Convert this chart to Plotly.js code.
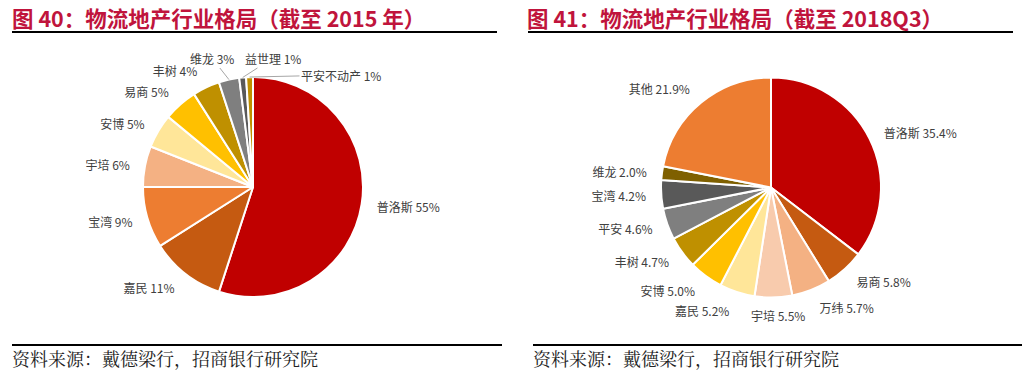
<!DOCTYPE html>
<html>
<head>
<meta charset="utf-8">
<script src="https://cdn.plot.ly/plotly-3.0.1.min.js"></script>
<style>html,body{margin:0;padding:0;background:#fff;}#chart{width:1035px;height:377px;}</style>
</head>
<body>
<div id="chart"></div>
<script>
// Figure 40: up to 2015
const labels2015 = ['普洛斯', '嘉民', '宝湾', '宇培', '安博', '易商', '丰树', '维龙', '益世理', '平安不动产'];
const values2015 = [55, 11, 9, 6, 5, 5, 4, 3, 1, 1];
const colors2015 = ['#C00000', '#C55A11', '#ED7D31', '#F4B183', '#FFE699', '#FFC000', '#BF9000', '#7F7F7F', '#595959', '#BF9000'];

// Figure 41: up to 2018Q3
const labels2018 = ['普洛斯', '易商', '万纬', '宇培', '嘉民', '安博', '丰树', '平安', '宝湾', '维龙', '其他'];
const values2018 = [35.4, 5.8, 5.7, 5.5, 5.2, 5.0, 4.7, 4.6, 4.2, 2.0, 21.9];
const colors2018 = ['#C00000', '#C55A11', '#F4B183', '#F8CBAD', '#FFE699', '#FFC000', '#BF9000', '#7F7F7F', '#595959', '#7F6000', '#ED7D31'];

const title2015 = '图 40：物流地产行业格局（截至 2015 年）';
const title2018 = '图 41：物流地产行业格局（截至 2018Q3）';
const sourceText = '资料来源：戴德梁行，招商银行研究院';

const W = 1035, H = 377;
const px = x => x / W;
const py = y => 1 - y / H;

// pie geometry (pixels)
const R = 110, RL = 121;
const c1 = {x: 253, y: 187}, c2 = {x: 771, y: 187.5};

const labelFont = {family: 'Noto Sans CJK SC, sans-serif', size: 12, color: '#404040'};
const clear = n => Array(n).fill('rgba(0,0,0,0)');

// slices whose labels are placed by hand (left chart with leader lines, right chart plain)
const manualLeft = {7: {tx: 212, ty: 58}, 8: {tx: 273, ty: 58}, 9: {tx: 341, ty: 75}};
const manualRight = {3: {tx: 778, ty: 315}};

function pieDomain(c, r) {
  return {x: [px(c.x - r), px(c.x + r)], y: [py(c.y + r), py(c.y - r)]};
}

const traces = [
  // main pies (no text)
  {
    type: 'pie', labels: labels2015, values: values2015, sort: false, direction: 'clockwise',
    marker: {colors: colors2015, line: {color: '#ffffff', width: 2}},
    textposition: 'none', domain: pieDomain(c1, R), hoverinfo: 'label+value', showlegend: false
  },
  {
    type: 'pie', labels: labels2018, values: values2018, sort: false, direction: 'clockwise',
    marker: {colors: colors2018, line: {color: '#ffffff', width: 2}},
    textposition: 'none', domain: pieDomain(c2, R), hoverinfo: 'label+value', showlegend: false
  },
  // transparent label rings, slightly larger, carrying the outside labels
  {
    type: 'pie', labels: labels2015, values: values2015, sort: false, direction: 'clockwise',
    marker: {colors: clear(values2015.length), line: {width: 0}},
    textposition: values2015.map((v, i) => (i in manualLeft) ? 'none' : 'outside'),
    texttemplate: '%{label} %{value}%', textfont: labelFont,
    domain: pieDomain(c1, RL), hoverinfo: 'skip', showlegend: false
  },
  {
    type: 'pie', labels: labels2018, values: values2018, sort: false, direction: 'clockwise',
    marker: {colors: clear(values2018.length), line: {width: 0}},
    textposition: values2018.map((v, i) => (i in manualRight) ? 'none' : 'outside'),
    texttemplate: '%{label} %{value:.1f}%', textfont: labelFont,
    domain: pieDomain(c2, RL), hoverinfo: 'skip', showlegend: false
  }
];

const titleFont = {family: 'Noto Sans CJK SC, sans-serif', size: 21.5, color: '#C0143C', weight: 'bold'};
const srcFont = {family: 'Noto Serif CJK SC, Noto Sans CJK SC, serif', size: 18, color: '#222222'};

const annotations = [
  {text: '<b>' + title2015 + '</b>', x: px(10), y: py(18), xref: 'paper', yref: 'paper', xanchor: 'left', yanchor: 'middle', showarrow: false, font: titleFont},
  {text: '<b>' + title2018 + '</b>', x: px(525), y: py(18), xref: 'paper', yref: 'paper', xanchor: 'left', yanchor: 'middle', showarrow: false, font: titleFont},
  {text: sourceText, x: px(10), y: py(358), xref: 'paper', yref: 'paper', xanchor: 'left', yanchor: 'middle', showarrow: false, font: srcFont},
  {text: sourceText, x: px(531), y: py(358), xref: 'paper', yref: 'paper', xanchor: 'left', yanchor: 'middle', showarrow: false, font: srcFont}
];

// leader-line labels for the thin slices, anchored at each slice's mid-angle on the rim
const total2015 = values2015.reduce((a, b) => a + b, 0);
let cum = 0;
values2015.forEach((v, i) => {
  const mid = (cum + v / 2) / total2015 * 2 * Math.PI;
  cum += v;
  if (!(i in manualLeft)) return;
  const ex = c1.x + R * Math.sin(mid), ey = c1.y - R * Math.cos(mid);
  const m = manualLeft[i];
  annotations.push({
    text: labels2015[i] + ' ' + v + '%', xref: 'paper', yref: 'paper',
    x: px(ex), y: py(ey), ax: m.tx - ex, ay: m.ty - ey,
    showarrow: true, arrowhead: 0, arrowwidth: 1, arrowcolor: '#A6A6A6', standoff: 0,
    font: labelFont
  });
});
values2018.forEach((v, i) => {
  if (!(i in manualRight)) return;
  const m = manualRight[i];
  annotations.push({
    text: labels2018[i] + ' ' + v.toFixed(1) + '%', xref: 'paper', yref: 'paper',
    x: px(m.tx), y: py(m.ty), xanchor: 'center', yanchor: 'middle', showarrow: false,
    font: labelFont
  });
});

const layout = {
  width: W, height: H,
  margin: {l: 0, r: 0, t: 0, b: 0},
  paper_bgcolor: '#ffffff', plot_bgcolor: '#ffffff',
  showlegend: false,
  annotations: annotations,
  shapes: [
    {type: 'line', xref: 'paper', yref: 'paper', x0: px(12), x1: px(497), y0: py(32), y1: py(32), line: {color: '#000', width: 2}},
    {type: 'line', xref: 'paper', yref: 'paper', x0: px(528), x1: px(1013), y0: py(32), y1: py(32), line: {color: '#000', width: 2}},
    {type: 'line', xref: 'paper', yref: 'paper', x0: px(12), x1: px(502), y0: py(345), y1: py(345), line: {color: '#000', width: 2}},
    {type: 'line', xref: 'paper', yref: 'paper', x0: px(533), x1: px(1022), y0: py(345), y1: py(345), line: {color: '#000', width: 2}}
  ]
};

Plotly.newPlot('chart', traces, layout, {displayModeBar: false, staticPlot: true});
</script>
</body>
</html>
